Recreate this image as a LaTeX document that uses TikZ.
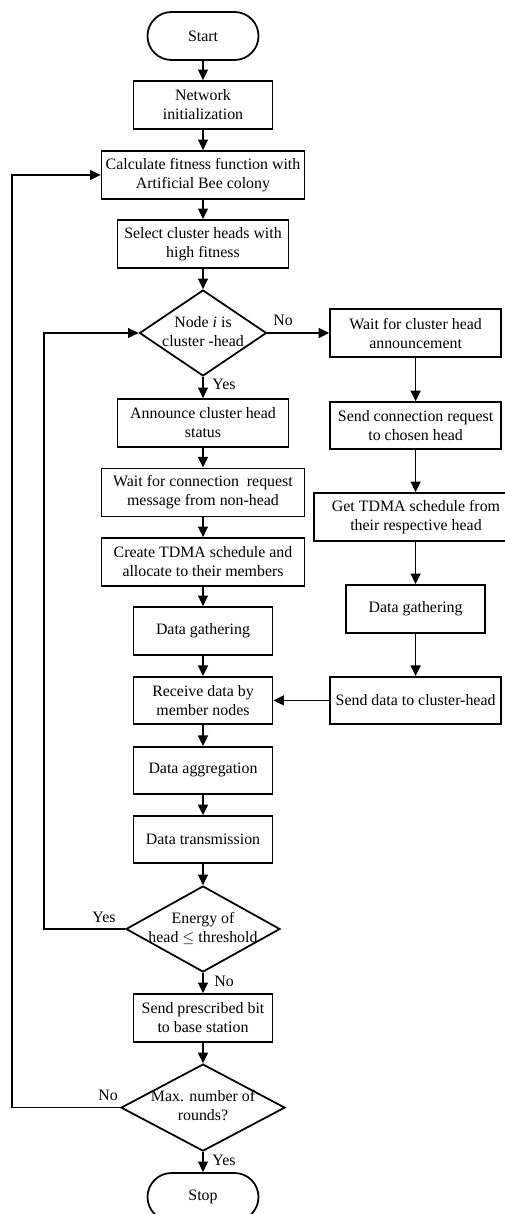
\documentclass[tikz,border=0pt]{standalone}
\usepackage{fontspec}
\setmainfont{Liberation Serif}
\usepackage{tikz}
\usetikzlibrary{shapes.geometric, arrows.meta, positioning, calc}
\usepackage{xcolor}
\tikzset{
  process/.style  = {draw, align=center, minimum height=1.2cm, inner sep=2pt, line width=1.25pt},
  terminal/.style = {draw, rounded corners=0.6cm, minimum width=2.775cm, minimum height=1.2cm,
                     inner sep=2pt, line width=1.25pt},
  decision/.style = {draw, diamond, inner sep=0pt, line width=1.25pt},
  flow/.style     = {-{Triangle[length=7.5pt, width=7pt]}, line width=1.25pt, draw=black},
  lbl/.style      = {inner sep=0pt}
}

\begin{document}
\begin{tikzpicture}[font=\fontsize{11.3}{13.5}\selectfont]
\useasboundingbox (0,0) rectangle (12.625,-30.35);
% main column
\node[terminal] (start) at (5.075,-0.9) {Start};
\node[process, minimum width=3.475cm] (init) at (5.075,-2.625) {Network\\initialization};
\node[process, minimum width=5.075cm] (calc) at (5.075,-4.375) {Calculate fitness function with\\Artificial Bee colony};
\node[process, minimum width=4.275cm] (select) at (5.075,-6.1) {Select cluster heads with\\high fitness};
\node[decision, minimum width=3.175cm, minimum height=2.15cm] (d1) at (5.075,-8.325)
  {\makebox[0pt]{\begin{tabular}{@{}c@{}}Node \textit{i} is\\cluster -head\end{tabular}}};
\node[process, minimum width=4.275cm] (announce) at (5.075,-10.575) {Announce cluster head\\status};
\node[process, minimum width=5.075cm] (waitreq) at (5.075,-12.31) {Wait for connection~ request\\message from non-head};
\node[process, minimum width=5.075cm] (create) at (5.075,-14.05) {Create TDMA schedule and\\allocate to their members};
\node[process, minimum width=3.475cm] (gatherL) at (5.075,-15.775) {Data gathering};
\node[process, minimum width=3.475cm, minimum height=1.175cm] (receive) at (5.075,-17.51) {Receive data by\\member nodes};
\node[process, minimum width=3.475cm, minimum height=1.175cm] (aggr) at (5.075,-19.26) {Data aggregation};
\node[process, minimum width=3.475cm, minimum height=1.175cm] (trans) at (5.075,-20.99) {Data transmission};
\node[decision, minimum width=3.85cm, minimum height=2.15cm] (d2) at (5.075,-23.225)
  {\makebox[0pt]{\begin{tabular}{@{}c@{}}Energy of\\head $\leq$ threshold\end{tabular}}};
\node[process, minimum width=3.475cm] (sendbit) at (5.075,-25.45) {Send prescribed bit\\to base station};
\node[decision, minimum width=4.1cm, minimum height=2.175cm] (d3) at (5.075,-27.69)
  {\makebox[0pt]{\begin{tabular}{@{}c@{}}Max. number of\\rounds?\end{tabular}}};
\node[terminal] (stop) at (5.075,-29.925) {Stop};
% non-head column
\node[process, minimum width=4.275cm] (waitann) at (10.39,-8.325) {Wait for cluster head\\announcement};
\node[process, minimum width=4.275cm, minimum height=1.175cm] (sendreq) at (10.39,-10.64) {Send connection request\\to chosen head};
\node[process, minimum width=5.1cm] (gettdma) at (10.4,-12.925) {Get TDMA schedule from\\their respective head};
\node[process, minimum width=3.475cm] (gatherR) at (10.39,-15.225) {Data gathering};
\node[process, minimum width=4.275cm, minimum height=1.175cm] (senddata) at (10.39,-17.51) {Send data to cluster-head};
% loop corners
\coordinate (loopin) at (1.1,0);
\coordinate (loopout) at (0.3,0);
% labels
\node[lbl] (no1) at (7.075,-8.0) {No};
\node[lbl] (yes1) at (5.6,-9.6) {Yes};
\node[lbl] (yes2) at (2.6,-22.925) {Yes};
\node[lbl] (no2) at (5.6,-24.525) {No};
\node[lbl] (no3) at (2.7,-27.375) {No};
\node[lbl] (yes3) at (5.6,-29.0) {Yes};
% connectors
\draw[flow] (start) -- (init);
\draw[flow] (init) -- (calc);
\draw[flow] (calc) -- (select);
\draw[flow] (select) -- (d1);
\draw[flow] (d1) -- (announce);
\draw[flow] (announce) -- (waitreq);
\draw[flow] (waitreq) -- (create);
\draw[flow] (create) -- (gatherL);
\draw[flow] (gatherL) -- (receive);
\draw[flow] (receive) -- (aggr);
\draw[flow] (aggr) -- (trans);
\draw[flow] (trans) -- (d2);
\draw[flow] (d2) -- (sendbit);
\draw[flow] (sendbit) -- (d3);
\draw[flow] (d3) -- (stop);
\draw[flow] (d1.east) -- (waitann.west);
\draw[flow] (waitann) -- (sendreq);
\draw[flow] (sendreq) -- (gettdma.north -| sendreq.south);
\draw[flow] (gettdma.south -| gatherR.north) -- (gatherR);
\draw[flow] (gatherR) -- (senddata);
\draw[flow] (senddata.west) -- (receive.east);
\draw[flow] (d2.west) -- (d2.west -| loopin) |- (d1.west);
\draw[flow] (d3.west) -- (d3.west -| loopout) |- (calc.west);
\end{tikzpicture}
\end{document}
